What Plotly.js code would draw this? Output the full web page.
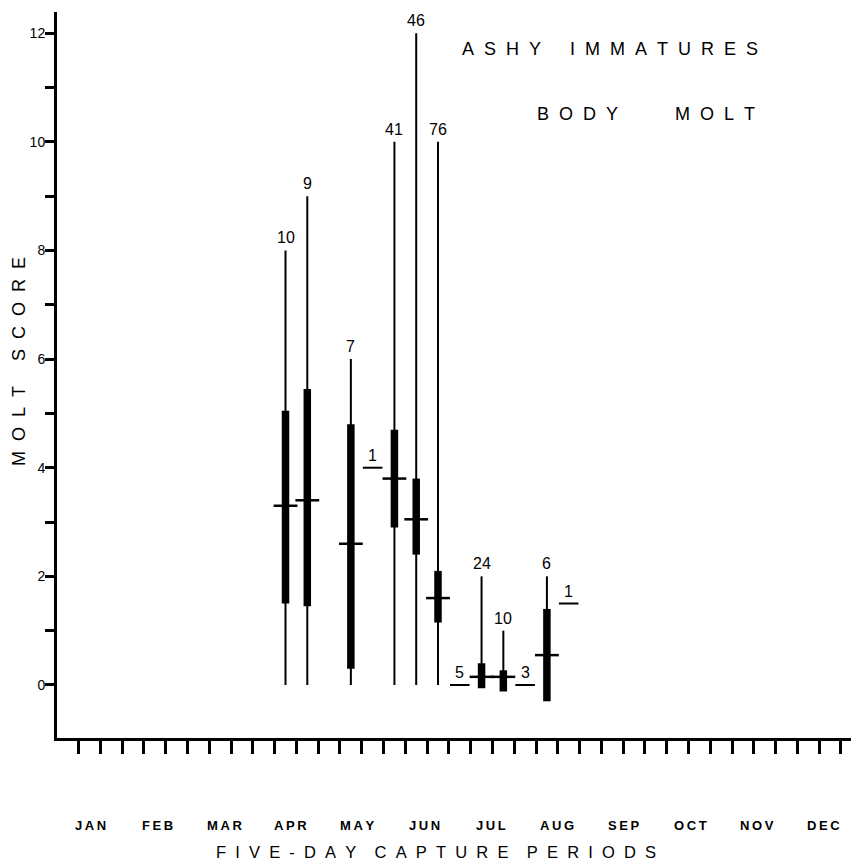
<!DOCTYPE html>
<html>
<head>
<meta charset="utf-8">
<script src="https://cdn.plot.ly/plotly-3.0.1.min.js"></script>
<style>
  html, body { margin: 0; padding: 0; background: #ffffff; }
  #chart { width: 851px; height: 862px; }
</style>
</head>
<body>
<div id="chart"></div>
<script>
// ---- Data ----
// Five-day capture period index (1-based along the year axis)
const periods   = [10, 11, 13, 14, 15, 16, 17, 18, 19, 20, 21, 22, 23];
// Sample sizes printed above each bar
const sampleN   = [10, 9, 7, 1, 41, 46, 76, 5, 24, 10, 3, 6, 1];
// Range (thin line): minimum and maximum molt score
const rangeMin  = [0, 0, 0, null, 0, 0, 0, null, 0, 0, null, 0, null];
const rangeMax  = [8, 9, 6, null, 10, 12, 10, null, 2, 1, null, 2, null];
// Mean molt score (horizontal tick / dash)
const meanScore = [3.3, 3.4, 2.6, 4.0, 3.8, 3.05, 1.6, 0.0, 0.15, 0.15, 0.0, 0.55, 1.5];
// Thick bar: mean minus / plus one standard deviation
const sdLow     = [1.5, 1.45, 0.3, null, 2.9, 2.4, 1.15, null, -0.06, -0.12, null, -0.3, null];
const sdHigh    = [5.05, 5.45, 4.8, null, 4.7, 3.8, 2.1, null, 0.4, 0.27, null, 1.4, null];
// Month labels and y tick labels
const months    = ['JAN','FEB','MAR','APR','MAY','JUN','JUL','AUG','SEP','OCT','NOV','DEC'];
const yTickVals = [0,1,2,3,4,5,6,7,8,9,10,11,12];
const yTickText = ['0','','2','','4','','6','','8','','10','','12'];

// ---- helpers ----
const NB = '\u00A0';
function spaced(str, letterGap, wordGap) {
  return str.split(' ').map(w => w.split('').join(NB.repeat(letterGap))).join(NB.repeat(wordGap));
}
function segments(xs, lo, hi) {
  const X = [], Y = [];
  xs.forEach((x, i) => {
    if (lo[i] === null || hi[i] === null) return;
    X.push(x, x, null); Y.push(lo[i], hi[i], null);
  });
  return {X, Y};
}

const FONT = 'Liberation Sans, Arial, sans-serif';

const rangeSeg = segments(periods, rangeMin, rangeMax);
const sdSeg = segments(periods, sdLow, sdHigh);

// mean ticks for bars vs. lone dashes (no range)
const meanX = [], meanY = [], dashX = [], dashY = [];
periods.forEach((p, i) => {
  if (rangeMax[i] === null) { dashX.push(p); dashY.push(meanScore[i]); }
  else { meanX.push(p); meanY.push(meanScore[i]); }
});
const labelY = periods.map((p, i) => rangeMax[i] !== null ? rangeMax[i] : meanScore[i]);

const traces = [
  { type: 'scatter', mode: 'lines', x: rangeSeg.X, y: rangeSeg.Y,
    line: {color: '#000', width: 2}, connectgaps: false, hoverinfo: 'skip' },
  { type: 'scatter', mode: 'lines', x: sdSeg.X, y: sdSeg.Y,
    line: {color: '#000', width: 7.5}, connectgaps: false, hoverinfo: 'skip' },
  { type: 'scatter', mode: 'markers', x: meanX, y: meanY,
    marker: {symbol: 'line-ew', size: 17, color: '#000', line: {color: '#000', width: 2.5}} },
  { type: 'scatter', mode: 'markers', x: dashX, y: dashY,
    marker: {symbol: 'line-ew', size: 14, color: '#000', line: {color: '#000', width: 2}} }
];

const xTickVals = [];
for (let k = 0; k < 36; k++) xTickVals.push(k + 0.5);

const annotations = [];
// sample-size labels above each bar / dash
periods.forEach((p, i) => {
  annotations.push({
    text: String(sampleN[i]), xref: 'x', yref: 'y', x: p, y: labelY[i],
    xanchor: 'center', yanchor: 'bottom', yshift: 2, showarrow: false,
    font: {family: FONT, size: 16, color: '#000'}
  });
});
months.forEach((m, i) => {
  annotations.push({
    text: m.split('').join('\u2009'), xref: 'x', yref: 'paper',
    x: 1.06 + 3.06 * i, y: -0.121, xanchor: 'center', yanchor: 'middle',
    showarrow: false, font: {family: FONT, size: 13, color: '#000', weight: 'bold'}
  });
});
annotations.push({
  text: spaced('FIVE-DAY CAPTURE PERIODS', 2, 4), xref: 'paper', yref: 'paper',
  x: (436 - 57) / 794, y: -0.157, xanchor: 'center', yanchor: 'middle',
  showarrow: false, font: {family: FONT, size: 16.5, color: '#000'}
});
annotations.push({
  text: spaced('MOLT SCORE', 2, 5), xref: 'paper', yref: 'paper',
  x: 0, xshift: -38, y: 0.518, xanchor: 'center', yanchor: 'middle', textangle: -90,
  showarrow: false, font: {family: FONT, size: 18, color: '#000'}
});
// title block (each word placed at its measured position)
const titleWords = [
  {w: 'ASHY', px: 460, anchor: 'left', py: 49},
  {w: 'IMMATURES', px: 760, anchor: 'right', py: 49},
  {w: 'BODY', px: 535, anchor: 'left', py: 114},
  {w: 'MOLT', px: 757, anchor: 'right', py: 114}
];
titleWords.forEach(t => {
  annotations.push({
    text: spaced(t.w, 2, 0), xref: 'paper', yref: 'paper',
    x: (t.px - 57) / 794, y: (738 - t.py) / 726, xanchor: t.anchor, yanchor: 'middle',
    showarrow: false, font: {family: FONT, size: 18, color: '#000'}
  });
});

const layout = {
  width: 851, height: 862,
  margin: {l: 57, r: 0, t: 12, b: 124},
  paper_bgcolor: '#fff', plot_bgcolor: '#fff',
  showlegend: false,
  font: {family: FONT, color: '#000'},
  xaxis: {
    range: [-0.49, 35.96], tickmode: 'array', tickvals: xTickVals,
    showticklabels: false, ticks: 'outside', ticklen: 13, tickwidth: 3, tickcolor: '#000',
    showline: true, linewidth: 3, linecolor: '#000', showgrid: false, zeroline: false
  },
  yaxis: {
    range: [-0.976, 12.39], tickmode: 'array', tickvals: yTickVals, ticktext: yTickText,
    ticks: 'outside', ticklen: 9, tickwidth: 3, tickcolor: '#000', ticklabelstandoff: -3,
    tickfont: {family: FONT, size: 14, color: '#000'},
    showline: true, linewidth: 3, linecolor: '#000', showgrid: false, zeroline: false
  },
  annotations: annotations
};

Plotly.newPlot('chart', traces, layout, {displayModeBar: false, staticPlot: true});
</script>
</body>
</html>
